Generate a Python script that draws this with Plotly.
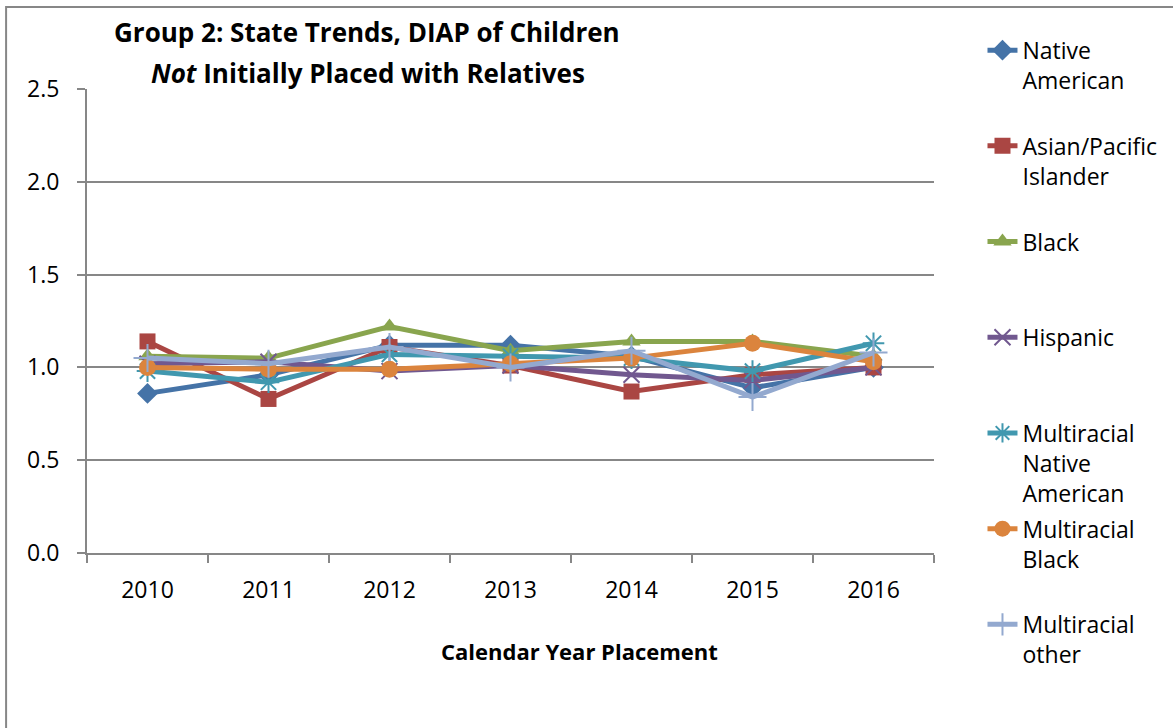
import plotly.graph_objects as go

years = ["2010", "2011", "2012", "2013", "2014", "2015", "2016"]

native_american = [0.86, 0.96, 1.12, 1.12, 1.06, 0.89, 1.00]
asian_pacific = [1.14, 0.83, 1.11, 1.01, 0.87, 0.96, 1.00]
black = [1.06, 1.05, 1.22, 1.09, 1.14, 1.14, 1.06]
hispanic = [1.02, 1.03, 0.98, 1.01, 0.96, 0.93, 1.00]
multi_native = [0.98, 0.92, 1.07, 1.06, 1.05, 0.98, 1.13]
multi_black = [1.00, 0.99, 0.99, 1.02, 1.05, 1.13, 1.03]
multi_other = [1.05, 1.02, 1.11, 1.00, 1.09, 0.84, 1.08]

series_names = [
    "Native<br>American<br>&nbsp;",
    "Asian/Pacific<br>Islander<br>&nbsp;",
    "Black<br>&nbsp;<br>&nbsp;",
    "Hispanic<br>&nbsp;<br>&nbsp;",
    "Multiracial<br>Native<br>American",
    "Multiracial<br>Black<br>&nbsp;",
    "Multiracial<br>other<br>&nbsp;",
]
series_values = [native_american, asian_pacific, black, hispanic,
                 multi_native, multi_black, multi_other]
colors = ["#4573A7", "#AA4643", "#89A54E", "#71588F", "#4198AF", "#DB843D", "#93A9CF"]
symbols = ["diamond", "square", "triangle-up", "x-thin-open", "asterisk-open",
           "circle", "cross-thin-open"]
sizes = [16, 16, 16, 16, 18, 17, 20]

FONT = "Open Sans"

fig = go.Figure()
for i, (name, vals) in enumerate(zip(series_names, series_values)):
    thin = symbols[i].endswith("-open")
    fig.add_trace(go.Scatter(
        x=years, y=vals, name=name, mode="lines+markers",
        legendgroup=f"g{i}",
        line=dict(color=colors[i], width=5),
        marker=dict(symbol=symbols[i], size=sizes[i], color=colors[i],
                    line=dict(color=colors[i], width=2 if thin else 0)),
    ))

fig.update_layout(
    width=1173, height=728,
    margin=dict(l=87, r=238, t=89, b=175),
    paper_bgcolor="white", plot_bgcolor="white",
    font=dict(family=FONT, size=22, color="black"),
    showlegend=True,
    legend=dict(
        x=1.056, xanchor="left", y=1.13, yanchor="top",
        valign="top", tracegroupgap=3, maxheight=900,
        font=dict(family=FONT, size=23, color="black"),
        bgcolor="rgba(0,0,0,0)",
    ),
    xaxis=dict(
        type="category", showgrid=False, showline=True, linecolor="#878787",
        linewidth=2, ticks="outside", tickson="boundaries", ticklen=8,
        tickcolor="#878787", tickwidth=2, ticklabelstandoff=15,
        tickfont=dict(family=FONT, size=23), range=[-0.5, 6.5],
    ),
    yaxis=dict(
        range=[0, 2.5], dtick=0.5, tickformat=".1f", showgrid=True,
        gridcolor="#878787", gridwidth=1.5, showline=True, linecolor="#878787",
        linewidth=2, ticks="outside", ticklen=8, tickcolor="#878787",
        tickwidth=2, ticklabelstandoff=13, tickfont=dict(family=FONT, size=23),
        zeroline=False,
    ),
    annotations=[
        dict(text="<b>Group 2: State Trends, DIAP of Children</b>",
             xref="paper", yref="paper", x=(367 - 87) / 848, y=(553 - 32) / 464,
             xanchor="center", yanchor="middle", showarrow=False,
             font=dict(family=FONT, size=26, color="black")),
        dict(text="<b><i>Not</i> Initially Placed with Relatives</b>",
             xref="paper", yref="paper", x=(368 - 87) / 848, y=(553 - 73) / 464,
             xanchor="center", yanchor="middle", showarrow=False,
             font=dict(family=FONT, size=26, color="black")),
        dict(text="<b>Calendar Year Placement</b>",
             xref="paper", yref="paper", x=(580 - 87) / 848, y=(553 - 651) / 464,
             xanchor="center", yanchor="middle", showarrow=False,
             font=dict(family=FONT, size=22, color="black")),
    ],
    shapes=[
        dict(type="rect", xref="paper", yref="paper",
             x0=(6 - 87) / 848, x1=(1190 - 87) / 848,
             y0=(553 - 745) / 464, y1=(553 - 7) / 464,
             line=dict(color="#878787", width=2), fillcolor="rgba(0,0,0,0)",
             layer="below"),
    ],
)

fig.write_html("out.html")
